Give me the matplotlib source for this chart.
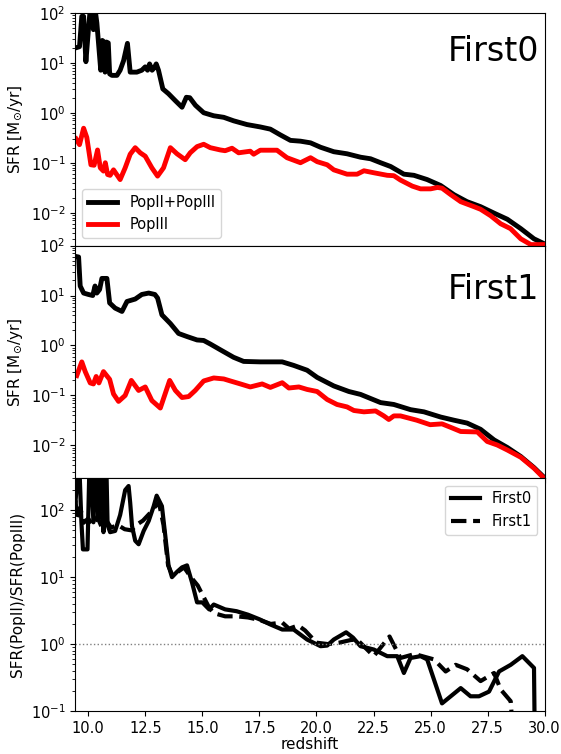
import numpy as np
import matplotlib
matplotlib.use('Agg')
import matplotlib.pyplot as plt

plt.rcParams['xtick.labelsize'] = 10.5
plt.rcParams['ytick.labelsize'] = 10.5
plt.rcParams['axes.labelsize'] = 11
plt.rcParams['legend.fontsize'] = 10.5

# First0 run: total SFR (PopII+PopIII) and PopIII SFR vs redshift
z0_tot = [9.47, 9.62, 9.72, 9.80, 9.90, 10.01, 10.09, 10.23, 10.30, 10.38, 10.55, 10.62, 10.70, 10.74,
          10.80, 10.88, 10.94, 11.04, 11.26, 11.40, 11.55, 11.72, 11.84, 12.13, 12.35, 12.50, 12.60,
          12.69, 12.80, 12.90, 12.98, 13.08, 13.27, 13.52, 13.82, 14.11, 14.30, 14.45, 14.70, 15.06,
          15.50, 15.94, 16.37, 16.96, 17.54, 17.98, 18.42, 18.86, 19.30, 19.74, 20.18, 20.76, 21.34,
          21.93, 22.37, 22.81, 23.25, 23.83, 24.27, 24.85, 25.44, 26.02, 26.60, 27.19, 27.78, 28.36,
          28.95, 29.53, 29.97]
sfr0_tot = [20, 21, 85, 85, 10.5, 46, 120, 46, 120, 63, 7.1, 28, 26, 6.5,
            26, 25, 6.0, 5.6, 5.6, 7.1, 11, 24.5, 6.5, 6.5, 7.1, 8.3, 7.1,
            9.5, 7.1, 8.0, 9.5, 7.1, 3.0, 2.4, 1.74, 1.29, 2.04, 2.0, 1.41, 1.0,
            0.87, 0.81, 0.69, 0.58, 0.52, 0.47, 0.36, 0.28, 0.27, 0.25, 0.204, 0.166, 0.151,
            0.129, 0.12, 0.10, 0.084, 0.059, 0.056, 0.046, 0.035, 0.023, 0.0166, 0.0132, 0.0098, 0.0074,
            0.0048, 0.0030, 0.0024]

z0_p3 = [9.47, 9.62, 9.80, 9.94, 10.12, 10.26, 10.41, 10.53, 10.67, 10.75, 10.85, 10.96, 11.11, 11.40,
         11.62, 11.84, 12.06, 12.28, 12.50, 12.79, 13.04, 13.30, 13.60, 13.89, 14.25, 14.47, 14.77,
         15.06, 15.35, 15.79, 16.00, 16.30, 16.59, 17.10, 17.25, 17.54, 18.27, 18.71, 19.30, 19.74,
         20.03, 20.47, 20.76, 21.34, 21.78, 22.08, 22.51, 23.10, 23.39, 23.68, 24.20, 24.56, 25.00,
         25.30, 25.50, 25.88, 26.32, 26.90, 27.19, 27.63, 28.07, 28.50, 28.95, 29.39, 29.97]
sfr0_p3 = [0.30, 0.23, 0.49, 0.32, 0.091, 0.089, 0.18, 0.079, 0.068, 0.10, 0.058, 0.056, 0.072, 0.046,
           0.079, 0.148, 0.20, 0.158, 0.135, 0.079, 0.054, 0.079, 0.20, 0.151, 0.115, 0.158, 0.21,
           0.234, 0.20, 0.18, 0.174, 0.195, 0.158, 0.17, 0.148, 0.178, 0.178, 0.126, 0.10, 0.126,
           0.105, 0.091, 0.072, 0.059, 0.059, 0.069, 0.063, 0.056, 0.055, 0.045, 0.034, 0.030, 0.030,
           0.032, 0.031, 0.023, 0.0166, 0.0132, 0.0117, 0.0087, 0.0060, 0.0048, 0.0030, 0.0023, 0.0023]

# First1 run
z1_tot = [9.50, 9.58, 9.65, 9.80, 10.01, 10.20, 10.30, 10.38, 10.50, 10.60, 10.82, 10.94, 11.18, 11.48,
          11.70, 12.06, 12.35, 12.65, 12.92, 13.04, 13.23, 13.60, 13.96, 14.33, 14.77, 15.06, 15.35,
          15.79, 16.37, 16.81, 17.54, 18.50, 19.00, 19.59, 20.03, 20.76, 21.42, 21.93, 22.81, 23.39,
          24.12, 24.71, 25.44, 26.02, 26.60, 27.19, 27.78, 28.36, 28.95, 29.53, 29.97]
sfr1_tot = [60, 59, 15.5, 11.2, 10.5, 10, 15.5, 11.2, 13.2, 22, 22, 7.1, 5.6, 4.8,
            7.6, 8.5, 10.5, 11.2, 10.5, 8.9, 4.1, 2.75, 1.74, 1.51, 1.29, 1.26, 1.07,
            0.82, 0.58, 0.48, 0.47, 0.47, 0.40, 0.32, 0.23, 0.155, 0.12, 0.105, 0.072, 0.066,
            0.052, 0.047, 0.037, 0.032, 0.028, 0.021, 0.0129, 0.0091, 0.0060, 0.0036, 0.0023]

z1_p3 = [9.50, 9.72, 9.87, 10.09, 10.23, 10.35, 10.47, 10.67, 10.94, 11.11, 11.33, 11.62, 11.89, 12.21,
         12.50, 12.79, 13.16, 13.57, 13.82, 14.11, 14.40, 14.69, 15.06, 15.50, 15.94, 16.23, 16.67,
         17.10, 17.62, 17.98, 18.50, 18.79, 19.23, 19.59, 20.03, 20.47, 20.90, 21.34, 21.64, 22.08,
         22.59, 22.95, 23.17, 23.39, 23.68, 24.39, 24.98, 25.50, 25.88, 26.32, 27.05, 27.48, 27.92,
         28.36, 28.95, 29.53, 29.97]
sfr1_p3 = [0.25, 0.47, 0.30, 0.178, 0.17, 0.24, 0.178, 0.30, 0.21, 0.107, 0.076, 0.10, 0.20, 0.126,
           0.148, 0.079, 0.056, 0.20, 0.126, 0.091, 0.095, 0.126, 0.195, 0.224, 0.214, 0.195, 0.17,
           0.148, 0.17, 0.145, 0.18, 0.141, 0.148, 0.132, 0.12, 0.083, 0.066, 0.059, 0.050, 0.047,
           0.049, 0.039, 0.033, 0.039, 0.039, 0.032, 0.026, 0.027, 0.023, 0.019, 0.0186, 0.012, 0.0102,
           0.0081, 0.0058, 0.0035, 0.0022]

# SFR(PopII)/SFR(PopIII)
zr0 = [9.45, 9.55, 9.62, 9.70, 9.77, 9.97, 10.05, 10.12, 10.23, 10.33, 10.40, 10.45, 10.55, 10.62,
       10.67, 10.75, 10.80, 10.85, 10.96, 11.18, 11.40, 11.62, 11.77, 11.84, 11.92, 12.06, 12.21,
       12.43, 12.65, 12.87, 13.00, 13.23, 13.38, 13.52, 13.67, 13.89, 14.11, 14.33, 14.55, 14.77,
       15.00, 15.30, 15.50, 16.00, 16.50, 17.00, 17.50, 18.00, 18.50, 19.00, 19.59, 20.18, 20.47,
       20.76, 21.30, 21.60, 21.93, 22.51, 23.10, 23.54, 23.83, 24.12, 24.56, 24.85, 25.50, 26.32,
       26.75, 27.12, 27.56, 28.00, 28.51, 29.02, 29.53, 29.56]
ratio0 = [140, 400, 400, 70, 26, 26, 400, 400, 66, 400, 400, 72, 400, 400,
          47, 400, 400, 60, 47, 49, 85, 200, 230, 130, 58, 35, 31,
          49, 69, 115, 165, 115, 41, 15, 10, 12, 14, 15, 8.3, 4.2,
          4.2, 3.3, 3.9, 3.3, 3.1, 2.75, 2.35, 1.95, 1.65, 1.65, 1.17, 0.93, 0.95,
          1.17, 1.5, 1.25, 0.93, 0.83, 0.66, 0.66, 0.37, 0.62, 0.66, 0.59, 0.13, 0.22,
          0.166, 0.166, 0.195, 0.39, 0.49, 0.66, 0.44, 0.05]

zr1 = [9.45, 9.50, 9.65, 9.80, 10.00, 10.20, 10.40, 10.60, 10.80, 11.00, 11.30, 11.60, 11.90, 12.10,
       12.40, 12.70, 12.90, 13.10, 13.30, 13.50, 13.70, 14.00, 14.20, 14.50, 14.80, 15.00, 15.30,
       15.50, 16.00, 16.50, 17.00, 17.50, 18.00, 18.50, 18.80, 19.20, 19.50, 20.00, 20.50, 21.00,
       21.50, 21.78, 22.51, 23.20, 23.68, 24.30, 25.15, 25.66, 26.10, 26.60, 27.19, 27.78, 28.07,
       28.51, 28.60]
ratio1 = [140, 72, 110, 65, 75, 60, 80, 55, 70, 55, 60, 52, 50, 60,
          70, 90, 110, 130, 60, 15, 10.5, 12.5, 14, 10, 7.5, 5.5, 3.5,
          2.9, 2.6, 2.6, 2.5, 2.3, 2.0, 2.1, 1.7, 1.9, 1.6, 1.05, 1.0, 1.05,
          1.15, 1.17, 0.66, 1.3, 0.62, 0.71, 0.59, 0.39, 0.49, 0.42, 0.28, 0.37, 0.21,
          0.14, 0.05]

fig, axes = plt.subplots(3, 1, sharex=True, figsize=(5.61, 7.54), dpi=100)
plt.subplots_adjust(left=0.134, right=0.971, top=0.983, bottom=0.057, hspace=0)

ax = axes[0]
ax.plot(z0_tot, sfr0_tot, color='black', lw=3.5, label='PopII+PopIII')
ax.plot(z0_p3, sfr0_p3, color='red', lw=3.5, label='PopIII')
ax.set_yscale('log')
ax.set_ylim(2.2e-3, 100)
ax.set_ylabel(r'SFR [M$_{\odot}$/yr]')
ax.text(0.988, 0.835, 'First0', transform=ax.transAxes, ha='right', va='center', fontsize=24)
ax.legend(loc='lower left')

ax = axes[1]
ax.plot(z1_tot, sfr1_tot, color='black', lw=3.5)
ax.plot(z1_p3, sfr1_p3, color='red', lw=3.5)
ax.set_yscale('log')
ax.set_ylim(2.2e-3, 100)
ax.set_ylabel(r'SFR [M$_{\odot}$/yr]')
ax.text(0.988, 0.81, 'First1', transform=ax.transAxes, ha='right', va='center', fontsize=24)

ax = axes[2]
ax.plot(zr0, ratio0, color='black', lw=3, ls='-', label='First0')
ax.plot(zr1, ratio1, color='black', lw=3, ls='--', label='First1')
ax.axhline(1.0, color='gray', ls=':', lw=1)
ax.set_yscale('log')
ax.set_ylim(0.1, 300)
ax.set_ylabel('SFR(PopII)/SFR(PopIII)')
ax.set_xlabel('redshift', labelpad=1)
ax.legend(loc='upper right')
ax.set_xlim(9.43, 30)

plt.savefig('out.png', dpi=100)
